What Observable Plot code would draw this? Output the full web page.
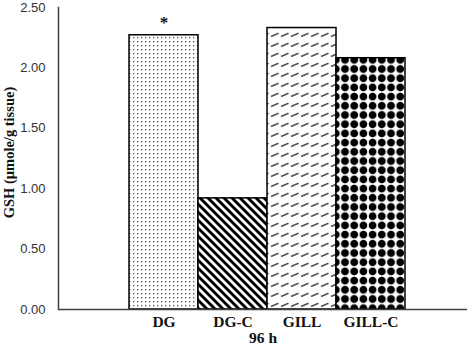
<!DOCTYPE html>
<html><head><meta charset="utf-8">
<script src="https://cdn.jsdelivr.net/npm/d3@7"></script>
<script src="https://cdn.jsdelivr.net/npm/@observablehq/plot@0.6"></script>
<style>body{margin:0;background:#fff}</style>
</head><body><div id="chart"></div>
<script>
const categories = ["DG", "DG-C", "GILL", "GILL-C"];
const values = [2.27, 0.92, 2.33, 2.08];
const patterns = ["url(#pDots)", "url(#pStripes)", "url(#pDash)", "url(#pDiamonds)"];
const yTicks = [0, 0.5, 1, 1.5, 2, 2.5];
const yLabel = "GSH (μmole/g tissue)";
const xTitle = "96 h";
const significance = [{cat: "DG", value: 2.27, mark: "*"}];

const data = categories.map((c, i) => ({cat: c, value: values[i], pat: patterns[i]}));
const serif = "'Liberation Serif', 'Times New Roman', serif";

const chart = Plot.plot({
  width: 474, height: 346,
  marginLeft: 58, marginRight: 7, marginTop: 7, marginBottom: 37,
  style: {background: "white"},
  x: {domain: categories, range: [127, 406], padding: 0, axis: null},
  y: {domain: [0, 2.5], axis: null},
  color: {type: "identity"},
  marks: [
    Plot.barY(data, {x: "cat", y: "value", fill: "pat", stroke: "black", strokeWidth: 1.5}),
    Plot.frame({anchor: "left", stroke: "#404040", strokeWidth: 1.5}),
    Plot.ruleY([0], {stroke: "#404040", strokeWidth: 1.5}),
    Plot.axisY({ticks: yTicks, tickSize: 0, tickPadding: 13, tickFormat: d => d.toFixed(2),
      label: null, fontSize: 13, fontFamily: "'Liberation Sans', Arial, sans-serif", fill: "#333"}),
    Plot.axisX({tickSize: 0, tickPadding: 6, label: null, fontSize: 15.5, fontWeight: "bold", fontFamily: serif, fill: "#111"}),
    Plot.text([xTitle], {frameAnchor: "bottom", dy: 33, fontSize: 15.5, fontWeight: "bold", fontFamily: serif, fill: "#111"}),
    Plot.text([yLabel], {frameAnchor: "left", textAnchor: "middle", rotate: -90, dx: -49, dy: -6, fontSize: 14.5, fontWeight: "bold", fontFamily: serif, fill: "#111"}),
    Plot.text(significance, {x: "cat", y: "value", text: "mark", dy: -13, fontSize: 17, fontWeight: "bold", fontFamily: serif, fill: "#111"})
  ]
});

d3.select(chart).insert("defs", ":first-child").html(`
  <pattern id="pDots" patternUnits="userSpaceOnUse" width="4" height="4">
    <rect width="4" height="4" fill="white"/>
    <rect x="1" y="1" width="1.3" height="1.3" fill="#555"/>
  </pattern>
  <pattern id="pStripes" patternUnits="userSpaceOnUse" width="5.66" height="5.66" patternTransform="rotate(-45)">
    <rect width="5.66" height="5.66" fill="white"/>
    <rect width="2.9" height="5.66" fill="black"/>
  </pattern>
  <pattern id="pDash" patternUnits="userSpaceOnUse" width="10" height="10">
    <rect width="10" height="10" fill="white"/>
    <path d="M1,6.5 L8.5,3.2" stroke="#555" stroke-width="1.8"/>
  </pattern>
  <pattern id="pDiamonds" patternUnits="userSpaceOnUse" width="9.2" height="9.2">
    <rect width="9.2" height="9.2" fill="white"/>
    <circle cx="4.6" cy="4.6" r="3.9" fill="black"/>
  </pattern>
`);

document.getElementById("chart").appendChild(chart);
</script>
</body></html>
